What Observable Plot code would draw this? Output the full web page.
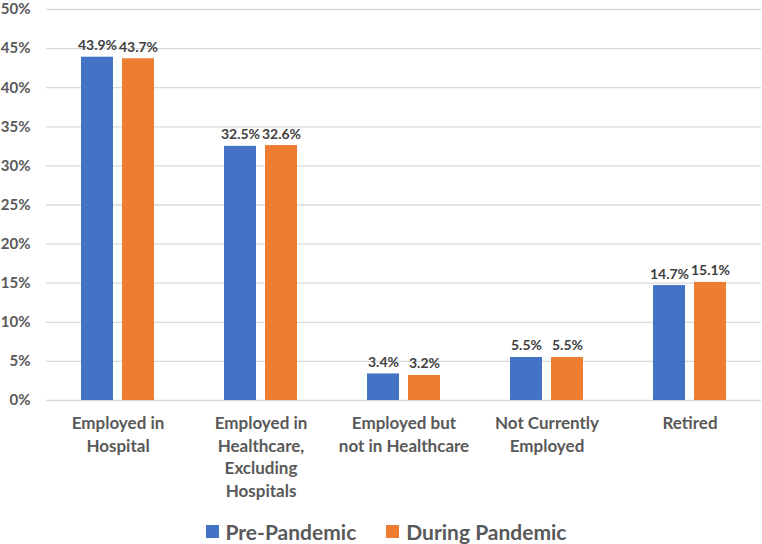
<!DOCTYPE html>
<html>
<head>
<meta charset="utf-8">
<script src="https://cdn.jsdelivr.net/npm/d3@7"></script>
<script src="https://cdn.jsdelivr.net/npm/@observablehq/plot@0.6"></script>
<style>
  html, body { margin: 0; padding: 0; background: #fff; }
  body { width: 762px; height: 544px; overflow: hidden; font-family: Lato, "Open Sans", sans-serif; }
  #legend { display: flex; justify-content: center; align-items: center; gap: 30px; height: 52px; font-weight: bold; font-size: 21px; color: #595959; margin-left: 10px; }
  #legend span.sw { display: inline-block; width: 13px; height: 13px; margin-right: 7px; }
  #legend .item { display: flex; align-items: center; }
</style>
</head>
<body>
<div id="chart"></div>
<div id="legend"></div>
<script>
const categories = ["Employed in Hospital", "Employed in Healthcare, Excluding Hospitals", "Employed but not in Healthcare", "Not Currently Employed", "Retired"];
const categoryLabels = ["Employed in\nHospital", "Employed in\nHealthcare,\nExcluding\nHospitals", "Employed but\nnot in Healthcare", "Not Currently\nEmployed", "Retired"];
const series = ["Pre-Pandemic", "During Pandemic"];
const preValues = [43.9, 32.5, 3.4, 5.5, 14.7];
const duringValues = [43.7, 32.6, 3.2, 5.5, 15.1];
const yTicks = [0, 5, 10, 15, 20, 25, 30, 35, 40, 45, 50];
const colors = ["#4472C4", "#ED7D31"];

const data = [];
categories.forEach((c, i) => {
  data.push({category: c, series: series[0], value: preValues[i]});
  data.push({category: c, series: series[1], value: duringValues[i]});
});
const catRows = categories.map((c, i) => ({category: c, label: categoryLabels[i]}));

const chart = Plot.plot({
  width: 762,
  height: 505,
  marginLeft: 45,
  marginRight: 0,
  marginTop: 9,
  marginBottom: 105,
  style: {fontFamily: "Lato, 'Open Sans', sans-serif", background: "#fff", overflow: "visible"},
  fx: {domain: categories, padding: 0, label: null, axis: null},
  x: {domain: series, paddingInner: 0.22, paddingOuter: 0.85, axis: null},
  y: {domain: [0, 50], label: null},
  color: {domain: series, range: colors},
  marks: [
    Plot.gridY(yTicks, {stroke: "#d9d9d9", strokeOpacity: 1, strokeWidth: 1.3}),
    Plot.barY(data, {fx: "category", x: "series", y: "value", fill: "series"}),
    Plot.text(data, {fx: "category", x: "series", y: "value", text: d => d.value.toFixed(1) + "%", lineAnchor: "bottom", dy: -7, fontSize: 14, fontWeight: "bold", fill: "#404040"}),
    Plot.axisY(yTicks, {tickSize: 0, tickPadding: 16, tickFormat: d => d + "%", fontSize: 15, fontWeight: "bold", fill: "#595959", label: null}),
    Plot.text(catRows, {fx: "category", text: "label", frameAnchor: "bottom", lineAnchor: "top", dy: 13, fontSize: 17, fontWeight: "bold", fill: "#595959", lineHeight: 1.32})
  ]
});
document.getElementById("chart").appendChild(chart);

const legend = document.getElementById("legend");
series.forEach((s, i) => {
  const item = document.createElement("div");
  item.className = "item";
  const sw = document.createElement("span");
  sw.className = "sw";
  sw.style.background = colors[i];
  item.appendChild(sw);
  item.appendChild(document.createTextNode(s));
  legend.appendChild(item);
});
</script>
</body>
</html>
